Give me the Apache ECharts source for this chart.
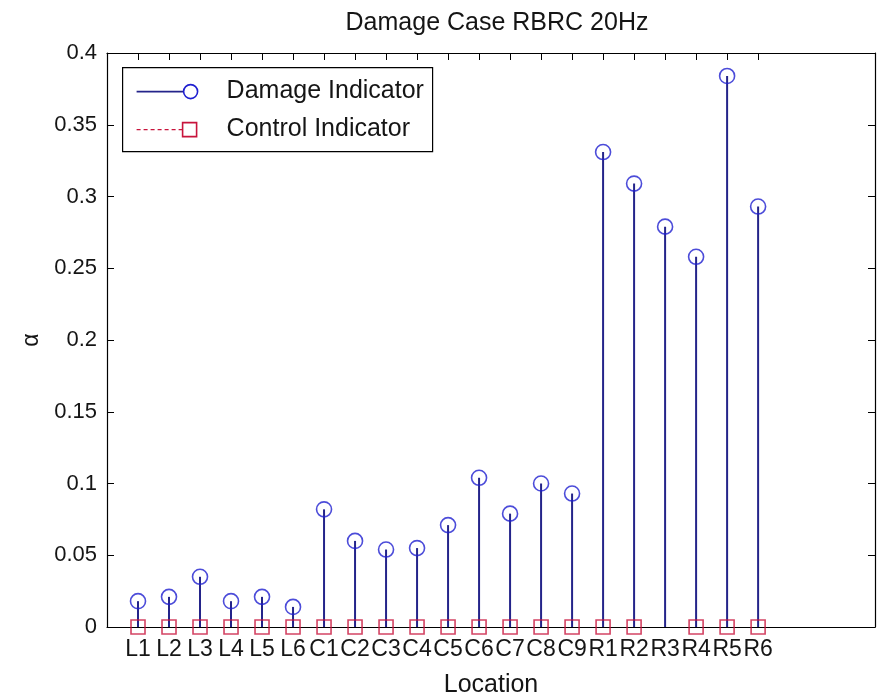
<!DOCTYPE html>
<html>
<head>
<meta charset="utf-8">
<script src="https://cdn.jsdelivr.net/npm/echarts@6/dist/echarts.min.js"></script>
<style>html,body{margin:0;padding:0;background:#fff;}#c{width:878px;height:698px;}</style>
</head>
<body>
<div id="c"></div>
<script>
const categories = ['L1','L2','L3','L4','L5','L6','C1','C2','C3','C4','C5','C6','C7','C8','C9','R1','R2','R3','R4','R5','R6'];
const damageValues = [0.018,0.021,0.035,0.018,0.021,0.014,0.082,0.060,0.054,0.055,0.071,0.104,0.079,0.100,0.093,0.331,0.309,0.279,0.258,0.384,0.293];
const controlValues = [0,0,0,0,0,0,0,0,0,0,0,0,0,0,0,0,0,null,0,0,0];
const yTicks = [0,0.05,0.1,0.15,0.2,0.25,0.3,0.35,0.4];

const positions = categories.map((c, i) => i + 1);
const damageData = positions.map((p, i) => [p, damageValues[i]]);
const controlData = positions.map((p, i) => controlValues[i] === null ? [p, '-'] : [p, controlValues[i]]);

const FONT = '"Liberation Sans", Arial, sans-serif';
const TXT = '#151515';
const BLUE = '#1f1fd0';
const STEM = '#24248a';
const RED = '#c8143c';

const chart = echarts.init(document.getElementById('c'), null, {renderer: 'canvas'});
const tickCommon = {show: true, inside: true, length: 7, lineStyle: {color: '#000', width: 1}};
chart.setOption({
  backgroundColor: '#fff',
  animation: false,
  title: {
    text: 'Damage Case RBRC 20Hz',
    left: 492, top: 6, textAlign: 'center',
    textStyle: {fontFamily: FONT, fontSize: 25, fontWeight: 'normal', color: TXT}
  },
  grid: {left: 107, right: 3, top: 53, bottom: 71, containLabel: false, outerBoundsMode: 'none'},
  xAxis: [{
    type: 'value', min: 0, max: 24.77, position: 'bottom',
    axisLine: {show: true, onZero: false, lineStyle: {color: '#000', width: 1.2}},
    axisTick: Object.assign({customValues: positions}, tickCommon),
    axisLabel: {
      customValues: positions,
      formatter: v => categories[Math.round(v) - 1] || '',
      fontFamily: FONT, fontSize: 23, color: TXT, margin: 11
    },
    splitLine: {show: false},
    name: 'Location', nameLocation: 'middle', nameGap: 46,
    nameTextStyle: {fontFamily: FONT, fontSize: 25, color: TXT}
  }, {
    type: 'value', min: 0, max: 24.77, position: 'top',
    axisLine: {show: true, onZero: false, lineStyle: {color: '#000', width: 1.2}},
    axisTick: Object.assign({customValues: positions}, tickCommon),
    axisLabel: {show: false},
    splitLine: {show: false}
  }],
  yAxis: [{
    type: 'value', min: 0, max: 0.4, interval: 0.05, position: 'left',
    axisLine: {show: true, onZero: false, lineStyle: {color: '#000', width: 1.2}},
    axisTick: tickCommon,
    axisLabel: {
      formatter: v => String(+v.toFixed(2)),
      fontFamily: FONT, fontSize: 22, color: TXT, margin: 10
    },
    splitLine: {show: false},
    name: 'α', nameLocation: 'middle', nameGap: 64, nameRotate: 90,
    nameTextStyle: {fontFamily: FONT, fontSize: 23, color: TXT}
  }, {
    type: 'value', min: 0, max: 0.4, interval: 0.05, position: 'right',
    axisLine: {show: true, onZero: false, lineStyle: {color: '#000', width: 1.2}},
    axisTick: tickCommon,
    axisLabel: {show: false},
    splitLine: {show: false}
  }],
  series: [{
    name: 'Damage stems', type: 'bar', data: damageData, barWidth: 2,
    itemStyle: {color: STEM}, z: 2, silent: true
  }, {
    name: 'Damage Indicator', type: 'scatter', data: damageData,
    symbol: 'circle', symbolSize: 15,
    itemStyle: {color: 'rgba(0,0,0,0)', borderColor: BLUE, borderWidth: 1.6}, z: 4
  }, {
    name: 'Control Indicator', type: 'scatter', data: controlData,
    symbol: 'rect', symbolSize: 14,
    itemStyle: {color: 'rgba(0,0,0,0)', borderColor: RED, borderWidth: 1.6}, z: 5
  }],
  graphic: [{
    type: 'group', left: 122, top: 67, z: 100,
    children: [
      {type: 'rect', shape: {x: 0, y: 0, width: 310, height: 84}, style: {fill: '#fff', stroke: '#000', lineWidth: 1.2}},
      {type: 'line', shape: {x1: 14, y1: 24, x2: 61, y2: 24}, style: {stroke: STEM, lineWidth: 1.6}},
      {type: 'circle', shape: {cx: 68, cy: 24, r: 7}, style: {fill: 'none', stroke: BLUE, lineWidth: 1.6}},
      {type: 'text', x: 104, y: 24, style: {text: 'Damage Indicator', font: '25px ' + FONT, fill: TXT, textVerticalAlign: 'middle'}},
      {type: 'line', shape: {x1: 14, y1: 62, x2: 60, y2: 62}, style: {stroke: RED, lineWidth: 1.2, lineDash: [4, 3]}},
      {type: 'rect', shape: {x: 60, y: 55, width: 14, height: 14}, style: {fill: 'none', stroke: RED, lineWidth: 1.6}},
      {type: 'text', x: 104, y: 62, style: {text: 'Control Indicator', font: '25px ' + FONT, fill: TXT, textVerticalAlign: 'middle'}}
    ]
  }]
});
</script>
</body>
</html>
